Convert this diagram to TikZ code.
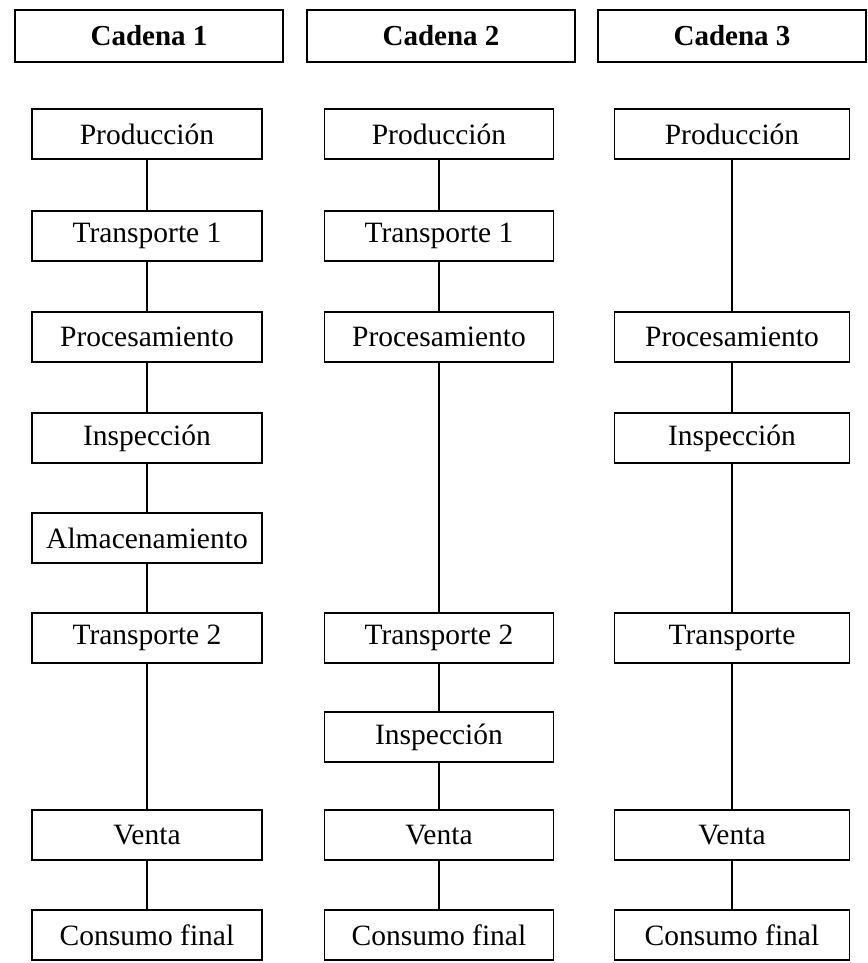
\documentclass[tikz,border=0pt]{standalone}
\usepackage{fontspec}
\setmainfont{Liberation Serif}
\begin{document}
\begin{tikzpicture}[x=1pt,y=-1pt,
  stage/.style={draw=black, line width=1.1pt, minimum height=50pt, inner sep=0pt,
    font=\fontsize{29.5}{32}\selectfont},
  header/.style={draw=black, line width=1.5pt, minimum width=268pt, minimum height=52pt,
    inner sep=0pt, font=\fontsize{29}{32}\selectfont\bfseries},
  link/.style={draw=black, line width=1.4pt}]
\useasboundingbox (0,0) rectangle (867,963);

% column headers
\node[header] (h1) at (149,36) {Cadena 1};
\node[header] (h2) at (441,36) {Cadena 2};
\node[header] (h3) at (732,36) {Cadena 3};

% chain 1
\begin{scope}[every node/.style={stage, minimum width=230pt}]
\node (a1) at (147,134) {Producción};
\node (a2) at (147,236) {Transporte 1};
\node (a3) at (147,337) {Procesamiento};
\node (a4) at (147,438) {Inspección};
\node (a5) at (147,538) {Almacenamiento};
\node (a6) at (147,638) {Transporte 2};
\node (a7) at (147,835) {Venta};
\node (a8) at (147,935) {Consumo final};
\end{scope}

% chain 2
\begin{scope}[every node/.style={stage, minimum width=229pt}]
\node (b1) at (439,134) {Producción};
\node (b2) at (439,236) {Transporte 1};
\node (b3) at (439,337) {Procesamiento};
\node (b4) at (439,638) {Transporte 2};
\node (b5) at (439,737) {Inspección};
\node (b6) at (439,835) {Venta};
\node (b7) at (439,935) {Consumo final};
\end{scope}

% chain 3
\begin{scope}[every node/.style={stage, minimum width=235pt}]
\node (c1) at (732,134) {Producción};
\node (c2) at (732,337) {Procesamiento};
\node (c3) at (732,438) {Inspección};
\node (c4) at (732,638) {Transporte};
\node (c5) at (732,835) {Venta};
\node (c6) at (732,935) {Consumo final};
\end{scope}

% connectors
\foreach \u/\v in {a1/a2,a2/a3,a3/a4,a4/a5,a5/a6,a6/a7,a7/a8,
                   b1/b2,b2/b3,b3/b4,b4/b5,b5/b6,b6/b7,
                   c1/c2,c2/c3,c3/c4,c4/c5,c5/c6}
  \draw[link] (\u.south) -- (\v.north);
\end{tikzpicture}
\end{document}
